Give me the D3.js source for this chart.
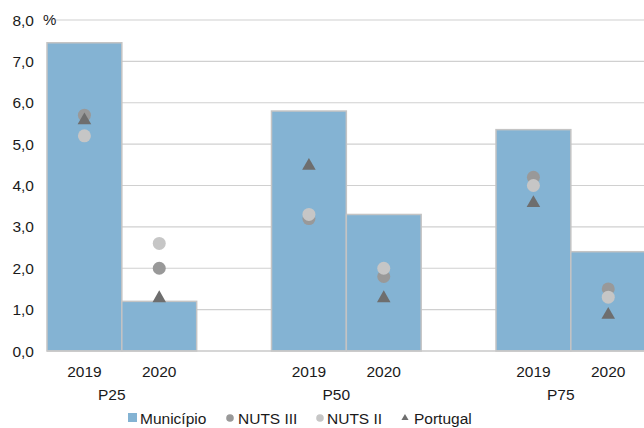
<!DOCTYPE html>
<html><head><meta charset="utf-8">
<script src="https://cdn.jsdelivr.net/npm/d3@7"></script>
<style>body{margin:0;background:#fff}svg{display:block}text{font-family:"Liberation Sans",Arial,sans-serif;fill:#1a1a1a}</style>
</head><body>
<svg id="c" width="644" height="428"></svg>
<script>
const categories = ["P25","P50","P75"];
const years = ["2019","2020"];
const municipio = [[7.45,1.2],[5.8,3.3],[5.35,2.4]];
const nuts3 = [[5.7,2.0],[3.2,1.8],[4.2,1.5]];
const nuts2 = [[5.2,2.6],[3.3,2.0],[4.0,1.3]];
const portugal = [[5.6,1.3],[4.5,1.3],[3.6,0.9]];
const yTicks = [0,1,2,3,4,5,6,7,8];
const legendLabels = ["Município","NUTS III","NUTS II","Portugal"];

(function(){
const svg = d3.select("#c");
const left = 47, plotTop = 20, bottom = 351;
const step = 224.5;
const x = d3.scaleBand().domain(categories)
  .range([left - step/6, left - step/6 + 3*step]).paddingInner(1/3).paddingOuter(1/6);
const xs = d3.scaleBand().domain(years).range([0, x.bandwidth()]);
const y = d3.scaleLinear().domain([0,8]).range([bottom, plotTop]);
const fmt = v => d3.format(".1f")(v).replace(".", ",");

// gridlines
svg.append("g").selectAll("line").data(yTicks.filter(d=>d>0)).join("line")
  .attr("x1", left).attr("x2", 644).attr("y1", d=>y(d)).attr("y2", d=>y(d))
  .attr("stroke", "#d0d0d0").attr("stroke-width", 1.2);

// y tick labels
svg.append("g").selectAll("text").data(yTicks).join("text")
  .attr("x", 34).attr("y", d=>y(d)).attr("dy", "0.36em")
  .attr("text-anchor", "end").attr("font-size", 15.5).text(fmt);

// % label
svg.append("rect").attr("x", 43).attr("y", 12).attr("width", 13).attr("height", 16).attr("fill", "#fff");
svg.append("text").attr("x", 43).attr("y", y(8)).attr("dy","0.36em").attr("font-size", 15).text("%");

// bars
const flat = [];
categories.forEach((c,i)=>years.forEach((yr,j)=>flat.push({c, yr, m: municipio[i][j], n3: nuts3[i][j], n2: nuts2[i][j], pt: portugal[i][j]})));
const cx = d => x(d.c) + xs(d.yr) + xs.bandwidth()/2;

svg.append("g").selectAll("rect").data(flat).join("rect")
  .attr("x", d=>x(d.c)+xs(d.yr)).attr("width", xs.bandwidth())
  .attr("y", d=>y(d.m)).attr("height", d=>y(0)-y(d.m))
  .attr("fill", "#84b3d3").attr("stroke", "#c4c4c4").attr("stroke-width", 1.5);

// x axis line
svg.append("line").attr("x1", left).attr("x2", 644).attr("y1", bottom).attr("y2", bottom)
  .attr("stroke", "#c8c8c8").attr("stroke-width", 1.5);

// markers
const g = svg.append("g");
g.selectAll(".n3").data(flat).join("circle").attr("class","n3")
  .attr("cx", cx).attr("cy", d=>y(d.n3)).attr("r", 6.5).attr("fill", "#999999");
g.selectAll(".n2").data(flat).join("circle").attr("class","n2")
  .attr("cx", cx).attr("cy", d=>y(d.n2)).attr("r", 6.5).attr("fill", "#c6c6c6");
const tri = d3.symbol().type(d3.symbolTriangle).size(80);
g.selectAll(".pt").data(flat).join("path").attr("class","pt")
  .attr("transform", d=>`translate(${cx(d)},${y(d.pt)+1})`).attr("d", tri).attr("fill", "#6e6e6e");

// x labels
svg.append("g").selectAll("text").data(flat).join("text")
  .attr("x", cx).attr("y", 377).attr("text-anchor","middle").attr("font-size", 15.5).text(d=>d.yr);
svg.append("g").selectAll("text").data(categories).join("text")
  .attr("x", d=>x(d)+x.bandwidth()/2-10).attr("y", 400).attr("text-anchor","middle").attr("font-size", 15.5).text(d=>d);

// legend
const lg = svg.append("g");
const ly = 418;
lg.append("rect").attr("x", 128).attr("y", ly-5).attr("width", 9).attr("height", 9).attr("fill", "#84b3d3");
lg.append("circle").attr("cx", 230).attr("cy", ly).attr("r", 3.8).attr("fill", "#999999");
lg.append("circle").attr("cx", 320).attr("cy", ly).attr("r", 3.8).attr("fill", "#c6c6c6");
lg.append("path").attr("transform", `translate(405,${ly})`).attr("d", d3.symbol().type(d3.symbolTriangle).size(22)).attr("fill", "#6e6e6e");
const lx = [140, 238, 327, 414];
lg.selectAll("text").data(legendLabels).join("text")
  .attr("x", (d,i)=>lx[i]).attr("y", ly).attr("dy","0.36em").attr("font-size", 15.5).text(d=>d);
})();
</script>
</body></html>
